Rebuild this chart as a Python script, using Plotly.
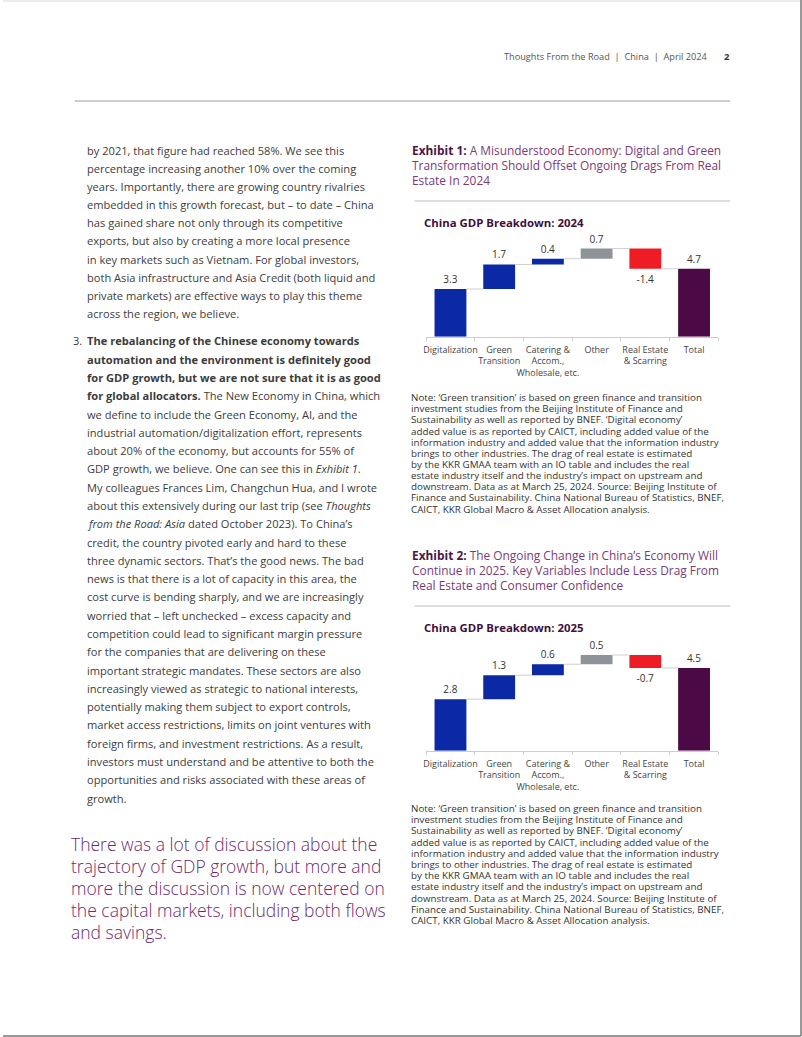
import plotly.graph_objects as go

W, H = 802, 1037

# ---------------- data ----------------
categories = ["Digitalization", "Green<br>Transition", "Catering &<br>Accom.,<br>Wholesale, etc.",
              "Other", "Real Estate<br>& Scarring", "Total"]
values_2024 = [3.3, 1.7, 0.4, 0.7, -1.4, 4.7]
values_2025 = [2.8, 1.3, 0.6, 0.5, -0.7, 4.5]
measures = ["relative", "relative", "relative", "relative", "relative", "total"]
bar_colors = ["#0b28a5", "#0b28a5", "#0b28a5", "#8e9398", "#ee1c24", "#4b0a46"]

header_text = "Thoughts From the Road  |  China  |  April 2024"
page_number = "2"

exhibit1_lines = ["<span style='color:#4a1648'><b>Exhibit 1:</b></span> A Misunderstood Economy: Digital and Green",
                  "Transformation Should Offset Ongoing Drags From Real",
                  "Estate In 2024"]
exhibit2_lines = ["<span style='color:#4a1648'><b>Exhibit 2:</b></span> The Ongoing Change in China’s Economy Will",
                  "Continue in 2025. Key Variables Include Less Drag From",
                  "Real Estate and Consumer Confidence"]
chart1_title = "China GDP Breakdown: 2024"
chart2_title = "China GDP Breakdown: 2025"

note_lines = [
    "Note: ‘Green transition’ is based on green finance and transition",
    "investment studies from the Beijing Institute of Finance and",
    "Sustainability as well as reported by BNEF. ‘Digital economy’",
    "added value is as reported by CAICT, including added value of the",
    "information industry and added value that the information industry",
    "brings to other industries. The drag of real estate is estimated",
    "by the KKR GMAA team with an IO table and includes the real",
    "estate industry itself and the industry’s impact on upstream and",
    "downstream. Data as at March 25, 2024. Source: Beijing Institute of",
    "Finance and Sustainability. China National Bureau of Statistics, BNEF,",
    "CAICT, KKR Global Macro & Asset Allocation analysis.",
]

para1_lines = [
    "by 2021, that figure had reached 58%. We see this",
    "percentage increasing another 10% over the coming",
    "years. Importantly, there are growing country rivalries",
    "embedded in this growth forecast, but – to date – China",
    "has gained share not only through its competitive",
    "exports, but also by creating a more local presence",
    "in key markets such as Vietnam. For global investors,",
    "both Asia infrastructure and Asia Credit (both liquid and",
    "private markets) are effective ways to play this theme",
    "across the region, we believe.",
]
para3_lines = [
    "<b>The rebalancing of the Chinese economy towards</b>",
    "<b>automation and the environment is definitely good</b>",
    "<b>for GDP growth, but we are not sure that it is as good</b>",
    "<b>for global allocators.</b> The New Economy in China, which",
    "we define to include the Green Economy, AI, and the",
    "industrial automation/digitalization effort, represents",
    "about 20% of the economy, but accounts for 55% of",
    "GDP growth, we believe. One can see this in <i>Exhibit 1</i>.",
    "My colleagues Frances Lim, Changchun Hua, and I wrote",
    "about this extensively during our last trip (see <i>Thoughts</i>",
    "<i>from the Road: Asia</i> dated October 2023). To China’s",
    "credit, the country pivoted early and hard to these",
    "three dynamic sectors. That’s the good news. The bad",
    "news is that there is a lot of capacity in this area, the",
    "cost curve is bending sharply, and we are increasingly",
    "worried that – left unchecked – excess capacity and",
    "competition could lead to significant margin pressure",
    "for the companies that are delivering on these",
    "important strategic mandates. These sectors are also",
    "increasingly viewed as strategic to national interests,",
    "potentially making them subject to export controls,",
    "market access restrictions, limits on joint ventures with",
    "foreign firms, and investment restrictions. As a result,",
    "investors must understand and be attentive to both the",
    "opportunities and risks associated with these areas of",
    "growth.",
]
quote_lines = [
    "There was a lot of discussion about the",
    "trajectory of GDP growth, but more and",
    "more the discussion is now centered on",
    "the capital markets, including both flows",
    "and savings.",
]

# ---------------- helpers ----------------
FONT = "Open Sans"
PAD = 3  # annotation inner padding compensation


def px_x(x):
    return x / W


def px_y(y):
    return 1 - y / H


annotations = []


def add_text(x, y, text, size, color, weight=400, xanchor="left", yanchor="middle", family=FONT):
    if xanchor == "left":
        x -= PAD
    annotations.append(dict(
        x=px_x(x), y=px_y(y), xref="paper", yref="paper", text=text, showarrow=False,
        xanchor=xanchor, yanchor=yanchor, align="left", borderpad=0,
        font=dict(family=family, size=size, color=color, weight=weight)))


fig = go.Figure()

BAR_W = 0.654


def waterfall(values, xa, ya, x_dom, y_base_px, y_top_px, px_per_unit):
    bases, ys = [], []
    cum = 0.0
    for m, v in zip(measures, values):
        if m == "total":
            bases.append(0.0)
            ys.append(v)
        else:
            bases.append(cum)
            ys.append(v)
            cum += v
    xs = list(range(len(values)))
    fig.add_trace(go.Bar(
        x=xs, y=ys, base=bases, width=BAR_W, marker=dict(color=bar_colors, line=dict(width=0)),
        text=[f"{v:.1f}" for v in values], textposition="outside", cliponaxis=False,
        textfont=dict(family=FONT, size=10, color="#333333"),
        xaxis=xa, yaxis=ya, showlegend=False, hoverinfo="skip"))
    cx, cy = [], []
    for i in range(len(values) - 1):
        level = bases[i] + ys[i]
        cx += [i + BAR_W / 2, i + 1 - BAR_W / 2, None]
        cy += [level, level, None]
    fig.add_trace(go.Scatter(x=cx, y=cy, mode="lines", line=dict(color="#cfcfcf", width=1),
                             xaxis=xa, yaxis=ya, showlegend=False, hoverinfo="skip"))
    yrange = (y_base_px - y_top_px) / px_per_unit
    axname_x = "xaxis" if xa == "x" else "xaxis" + xa[1:]
    axname_y = "yaxis" if ya == "y" else "yaxis" + ya[1:]
    fig.update_layout(**{
        axname_x: dict(domain=[px_x(x_dom[0]), px_x(x_dom[1])], anchor=ya, range=[-0.5, len(values) - 0.5],
                       tickmode="array", tickvals=xs, ticktext=categories, ticks="", tickangle=0,
                       tickfont=dict(family=FONT, size=9, color="#444444"), ticklabelstandoff=4,
                       showline=True, linecolor="#cccccc", linewidth=1, showgrid=False, zeroline=False,
                       minor=dict(tickmode="linear", tick0=-0.5, dtick=1, ticks="outside", ticklen=3,
                                  tickcolor="#cccccc", showgrid=False)),
        axname_y: dict(domain=[px_y(y_base_px), px_y(y_top_px)], anchor=xa, range=[0, yrange],
                       visible=False, showgrid=False, zeroline=False),
    })


waterfall(values_2024, "x", "y", (424.7, 718.1), 336.7, 236, 14.45)
waterfall(values_2025, "x2", "y2", (424.7, 718.1), 750.7, 640, 18.4)

# ---------------- text ----------------
add_text(708, 56, header_text, 9.2, "#555555", xanchor="right")
add_text(727, 56, page_number, 9.5, "#333333", weight=700, xanchor="center")

for i, t in enumerate(exhibit1_lines):
    add_text(413, 150 + i * 15, t, 11.9, "#7a3c78")
for i, t in enumerate(exhibit2_lines):
    add_text(413, 555 + i * 15, t, 11.9, "#7a3c78")

add_text(425, 222, chart1_title, 11.4, "#3f0f3d", weight=700)
add_text(425, 627.5, chart2_title, 11.4, "#3f0f3d", weight=700)

for i, t in enumerate(note_lines):
    add_text(412, 397.7 + i * 11.13, t, 9.8, "#333333")
    add_text(412, 808.3 + i * 11.24, t, 9.8, "#333333")

for i, t in enumerate(para1_lines):
    add_text(86, 150 + i * 18.2, t, 11.1, "#3c3c3c")
add_text(72, 341, "3.", 11.1, "#3c3c3c")
for i, t in enumerate(para3_lines):
    add_text(86, 341 + i * 18.28, t, 11.1, "#3c3c3c")

for i, t in enumerate(quote_lines):
    add_text(70, 843.5 + i * 22.05, t, 17.5, "#6e2a6c", weight=300)

# ---------------- rules / page border ----------------
shapes = [
    dict(type="line", xref="paper", yref="paper", x0=px_x(72), x1=px_x(730), y0=px_y(101), y1=px_y(101),
         line=dict(color="#9a9a9a", width=1)),
    dict(type="line", xref="paper", yref="paper", x0=px_x(413), x1=px_x(730), y0=px_y(201), y1=px_y(201),
         line=dict(color="#bdbdbd", width=1)),
    dict(type="line", xref="paper", yref="paper", x0=px_x(413), x1=px_x(730), y0=px_y(606), y1=px_y(606),
         line=dict(color="#bdbdbd", width=1)),
    dict(type="line", xref="paper", yref="paper", x0=0, x1=px_x(801), y0=px_y(1), y1=px_y(1),
         line=dict(color="#d8d8d8", width=1)),
    dict(type="line", xref="paper", yref="paper", x0=px_x(801), x1=px_x(801), y0=px_y(0), y1=px_y(1036),
         line=dict(color="#777777", width=1.5)),
    dict(type="line", xref="paper", yref="paper", x0=0, x1=px_x(801), y0=px_y(1036), y1=px_y(1036),
         line=dict(color="#777777", width=1.5)),
]

fig.update_layout(
    width=W, height=H, margin=dict(l=0, r=0, t=0, b=0),
    paper_bgcolor="white", plot_bgcolor="white",
    annotations=annotations, shapes=shapes, bargap=0.35, showlegend=False,
)

fig.write_html("out.html", config={"displayModeBar": False},
               post_script="document.body.style.margin='0';document.body.style.overflow='hidden';")
